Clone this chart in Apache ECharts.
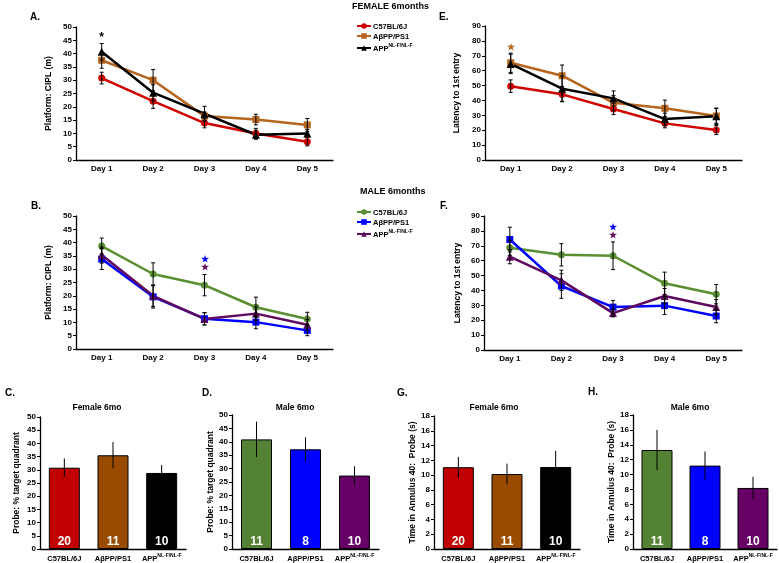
<!DOCTYPE html>
<html><head><meta charset="utf-8">
<script src="https://cdn.jsdelivr.net/npm/echarts/dist/echarts.min.js"></script>
<style>html,body{margin:0;padding:0;background:#fff}#c{width:779px;height:563px}</style>
</head><body><div id="c"></div>
<script>
// ---------- DATA ----------
const days = ['Day 1', 'Day 2', 'Day 3', 'Day 4', 'Day 5'];
const groups = ['C57BL/6J', 'AβPP/PS1', 'APP'];

// A: Female CIPL
const femCiplWT = [30.8, 22.1, 13.9, 10.0, 6.9];
const femCiplWTErr = [2.2, 2.7, 1.8, 1.9, 1.6];
const femCiplAB = [37.5, 30.0, 16.5, 15.2, 13.2];
const femCiplABErr = [3.0, 4.0, 1.5, 2.0, 2.4];
const femCiplAPP = [40.7, 25.3, 17.4, 9.5, 10.0];
const femCiplAPPErr = [3.1, 3.0, 2.8, 1.7, 1.5];

// E: Female latency
const femLatWT = [49.6, 44.1, 34.3, 24.6, 20.1];
const femLatWTErr = [4.2, 5.0, 3.8, 3.0, 3.0];
const femLatAB = [65.3, 56.6, 38.4, 34.7, 29.6];
const femLatABErr = [6.5, 7.2, 5.0, 5.5, 5.0];
const femLatAPP = [64.5, 47.9, 41.4, 27.5, 29.4];
const femLatAPPErr = [6.5, 8.5, 5.0, 4.0, 5.5];

// B: Male CIPL
const maleCiplWT = [38.7, 28.2, 24.0, 15.7, 11.3];
const maleCiplWTErr = [3.0, 4.2, 4.0, 3.8, 2.5];
const maleCiplAB = [33.8, 19.6, 11.4, 10.1, 7.0];
const maleCiplABErr = [3.9, 4.2, 2.3, 2.5, 2.0];
const maleCiplAPP = [35.3, 20.0, 11.3, 13.3, 9.1];
const maleCiplAPPErr = [3.0, 4.0, 2.3, 2.5, 2.0];

// F: Male latency
const maleLatWT = [68.6, 63.9, 63.3, 44.8, 37.5];
const maleLatWTErr = [5.0, 7.5, 9.3, 7.5, 6.5];
const maleLatAB = [74.2, 43.0, 28.8, 29.8, 22.8];
const maleLatABErr = [8.3, 8.3, 4.5, 6.0, 4.5];
const maleLatAPP = [62.7, 46.8, 24.8, 36.3, 28.9];
const maleLatAPPErr = [4.8, 6.8, 2.5, 5.0, 5.0];

// C, D: probe % target quadrant
const femProbe = [30.8, 35.5, 28.8];
const femProbeErr = [3.5, 5.0, 3.0];
const maleProbe = [40.9, 37.2, 27.4];
const maleProbeErr = [6.6, 4.5, 3.5];
// G, H: time in annulus 40
const femAnnulus = [11.07, 10.15, 11.1];
const femAnnulusErr = [1.4, 1.4, 2.2];
const maleAnnulus = [13.3, 11.2, 8.2];
const maleAnnulusErr = [2.7, 1.9, 1.5];
// group sizes
const femN = [20, 11, 10];
const maleN = [11, 8, 10];

// significance marks [dayIndex, yValue]
const starA = [[0, 46]];
const starE = [[0, 75.5]];
const starBblue = [[2, 33.8]];
const starBpurple = [[2, 30.5]];
const starFblue = [[2, 82.2]];
const starFpurple = [[2, 76.6]];

// ---------- STYLE ----------
const FONT = '"Liberation Sans", Arial, sans-serif';
const C = {
  redL: '#d00000', redB: '#c00000',
  brownL: '#b5651d', brownB: '#994c00',
  black: '#000000',
  greenL: '#5a8f31', greenB: '#548235',
  blue: '#0000ff',
  purpleL: '#5f0a5f', purpleB: '#660066'
};
const grids = [], xAxis = [], yAxis = [], series = [];

function errSeries(gi, vals, errs, capW) {
  const data = vals.map((v, i) => [i, v - errs[i], v + errs[i]]);
  series.push({
    type: 'custom', xAxisIndex: gi, yAxisIndex: gi, z: 6, silent: true,
    data: data, encode: { x: 0, y: [1, 2] },
    renderItem: function (params, api) {
      const x = api.value(0);
      const p1 = api.coord([x, api.value(1)]);
      const p2 = api.coord([x, api.value(2)]);
      const st = { stroke: '#000', lineWidth: 1 };
      return { type: 'group', children: [
        { type: 'line', shape: { x1: p1[0], y1: p1[1], x2: p2[0], y2: p2[1] }, style: st },
        { type: 'line', shape: { x1: p1[0] - capW, y1: p1[1], x2: p1[0] + capW, y2: p1[1] }, style: st },
        { type: 'line', shape: { x1: p2[0] - capW, y1: p2[1], x2: p2[0] + capW, y2: p2[1] }, style: st }
      ]};
    }
  });
}
function starSeries(gi, pts, ch, color, size) {
  series.push({
    type: 'custom', xAxisIndex: gi, yAxisIndex: gi, z: 7, silent: true,
    data: pts, encode: { x: 0, y: 1 },
    renderItem: function (params, api) {
      const p = api.coord([api.value(0), api.value(1)]);
      return { type: 'text', style: { text: ch, x: p[0], y: p[1], fill: color,
        font: 'bold ' + size + 'px ' + FONT, textAlign: 'center', textVerticalAlign: 'middle' } };
    }
  });
}
function axes(gi, cats, max, interval, yName, nameGap, labelRich) {
  xAxis.push({
    type: 'category', gridIndex: gi, data: cats, boundaryGap: true,
    axisLine: { lineStyle: { color: '#000', width: 1.3 } },
    axisTick: { alignWithLabel: true, length: 4, lineStyle: { color: '#000', width: 1 } },
    axisLabel: Object.assign({ color: '#000', fontWeight: 'bold', fontSize: 8, margin: 5, fontFamily: FONT, interval: 0 }, labelRich || {})
  });
  yAxis.push({
    type: 'value', gridIndex: gi, min: 0, max: max, interval: interval,
    splitLine: { show: false },
    axisLine: { show: true, lineStyle: { color: '#000', width: 1.3 } },
    axisTick: { show: true, length: 3, lineStyle: { color: '#000' } },
    axisLabel: { color: '#000', fontWeight: 'bold', fontSize: 8, margin: 4, fontFamily: FONT },
    name: yName, nameLocation: 'middle', nameGap: nameGap,
    nameTextStyle: { color: '#000', fontWeight: 'bold', fontSize: 8.5, fontFamily: FONT }
  });
}
function linePanel(g, max, interval, yName, nameGap, lines) {
  const gi = grids.length;
  grids.push(g);
  axes(gi, days, max, interval, yName, nameGap);
  lines.forEach(l => {
    series.push({
      type: 'line', name: l.name, xAxisIndex: gi, yAxisIndex: gi, data: l.data,
      symbol: l.symbol, symbolSize: l.size, z: 3,
      lineStyle: { width: 2.5, color: l.color }, itemStyle: { color: l.color }
    });
  });
  lines.forEach(l => errSeries(gi, l.data, l.err, 2));
  return gi;
}
const supRich = {
  b: { fontSize: 7.5, fontWeight: 'bold', fontFamily: FONT, color: '#000', lineHeight: 10, verticalAlign: 'bottom' },
  s: { fontSize: 5, fontWeight: 'bold', fontFamily: FONT, color: '#000', lineHeight: 10, verticalAlign: 'top', padding: [0, 0, 3, 0] }
};
function barPanel(g, max, interval, yName, nameGap, vals, errs, colors, ns) {
  const gi = grids.length;
  grids.push(g);
  axes(gi, groups, max, interval, yName, nameGap, {
    formatter: function (v) { return v === 'APP' ? '{b|APP}{s|NL-F/NL-F}' : '{b|' + v + '}'; },
    rich: supRich, margin: 4
  });
  series.push({
    type: 'bar', xAxisIndex: gi, yAxisIndex: gi, barWidth: 31, z: 2,
    data: vals.map((v, i) => ({ value: v, itemStyle: { color: colors[i] } })),
    itemStyle: { borderColor: '#000', borderWidth: 1 },
    label: { show: true, position: 'insideBottom', distance: 1, color: '#fff', fontWeight: 'bold',
      fontSize: 12, fontFamily: FONT, formatter: p => String(ns[p.dataIndex]) }
  });
  errSeries(gi, vals, errs, 0);
}

// ---------- PANELS ----------
linePanel({ left: 76, top: 27, width: 257, height: 133 }, 50, 5, 'Platform: CIPL (m)', 23, [
  { name: 'F_WT', data: femCiplWT, err: femCiplWTErr, color: C.redL, symbol: 'circle', size: 7 },
  { name: 'F_AB', data: femCiplAB, err: femCiplABErr, color: C.brownL, symbol: 'rect', size: 7 },
  { name: 'F_APP', data: femCiplAPP, err: femCiplAPPErr, color: C.black, symbol: 'triangle', size: 8 }
]);
starSeries(0, starA, '*', '#000', 12);

linePanel({ left: 485, top: 26, width: 257, height: 134 }, 90, 10, 'Latency to 1st entry', 24, [
  { name: 'F_WT', data: femLatWT, err: femLatWTErr, color: C.redL, symbol: 'circle', size: 7 },
  { name: 'F_AB', data: femLatAB, err: femLatABErr, color: C.brownL, symbol: 'rect', size: 7 },
  { name: 'F_APP', data: femLatAPP, err: femLatAPPErr, color: C.black, symbol: 'triangle', size: 8 }
]);
starSeries(1, starE, '★', C.brownL, 9);

linePanel({ left: 76, top: 216, width: 257, height: 133 }, 50, 5, 'Platform: CIPL (m)', 23, [
  { name: 'M_WT', data: maleCiplWT, err: maleCiplWTErr, color: C.greenL, symbol: 'circle', size: 7 },
  { name: 'M_AB', data: maleCiplAB, err: maleCiplABErr, color: C.blue, symbol: 'rect', size: 7 },
  { name: 'M_APP', data: maleCiplAPP, err: maleCiplAPPErr, color: C.purpleL, symbol: 'triangle', size: 8 }
]);
starSeries(2, starBblue, '★', C.blue, 9);
starSeries(2, starBpurple, '★', C.purpleL, 9);

linePanel({ left: 484, top: 216, width: 258, height: 134 }, 90, 10, 'Latency to 1st entry', 22, [
  { name: 'M_WT', data: maleLatWT, err: maleLatWTErr, color: C.greenL, symbol: 'circle', size: 7 },
  { name: 'M_AB', data: maleLatAB, err: maleLatABErr, color: C.blue, symbol: 'rect', size: 7 },
  { name: 'M_APP', data: maleLatAPP, err: maleLatAPPErr, color: C.purpleL, symbol: 'triangle', size: 8 }
]);
starSeries(3, starFblue, '★', C.blue, 9);
starSeries(3, starFpurple, '★', C.purpleL, 9);

barPanel({ left: 40, top: 417, width: 146, height: 132 }, 50, 5, 'Probe: % target quadrant', 19,
  femProbe, femProbeErr, [C.redB, C.brownB, C.black], femN);
barPanel({ left: 232, top: 415, width: 147, height: 134 }, 50, 5, 'Probe: % target quadrant', 16,
  maleProbe, maleProbeErr, [C.greenB, C.blue, C.purpleB], maleN);
barPanel({ left: 434, top: 416, width: 146, height: 133 }, 18, 2, 'Time in Annulus 40:  Probe (s)', 16,
  femAnnulus, femAnnulusErr, [C.redB, C.brownB, C.black], femN);
barPanel({ left: 633, top: 415, width: 144, height: 134 }, 18, 2, 'Time in Annulus 40:  Probe (s)', 16,
  maleAnnulus, maleAnnulusErr, [C.greenB, C.blue, C.purpleB], maleN);

// ---------- LEGENDS / TEXT ----------
const legendNames = { F_WT: 'C57BL/6J', F_AB: 'AβPP/PS1', F_APP: 'APP', M_WT: 'C57BL/6J', M_AB: 'AβPP/PS1', M_APP: 'APP' };
function legend(top, names) {
  return {
    orient: 'vertical', left: 356, top: top, padding: 0, itemWidth: 14, itemHeight: 7, itemGap: 2,
    data: names, selectedMode: false,
    formatter: n => legendNames[n] === 'APP' ? '{b|APP}{s|NL-F/NL-F}' : '{b|' + legendNames[n] + '}',
    textStyle: { rich: supRich, padding: [0, 0, 0, -3] }
  };
}
function txt(x, y, t, size, align) {
  return { type: 'text', x: x, y: y, silent: true,
    style: { text: t, fill: '#000', font: 'bold ' + size + 'px ' + FONT, textAlign: align || 'left', textVerticalAlign: 'middle' } };
}
const graphics = [
  txt(30, 17, 'A.', 10), txt(439, 17, 'E.', 10), txt(31, 206, 'B.', 10), txt(440, 206, 'F.', 10),
  txt(5, 393, 'C.', 10), txt(202, 393, 'D.', 10), txt(397, 393, 'G.', 10), txt(588, 392, 'H.', 10),
  txt(352, 7, 'FEMALE 6months', 9), txt(360, 192, 'MALE 6months', 9),
  txt(97, 408, 'Female 6mo', 8.5, 'center'), txt(295, 408, 'Male 6mo', 8.5, 'center'),
  txt(494, 408, 'Female 6mo', 8.5, 'center'), txt(690, 408, 'Male 6mo', 8.5, 'center')
];

const chart = echarts.init(document.getElementById('c'), null, { renderer: 'canvas' });
chart.setOption({
  animation: false, backgroundColor: '#fff',
  textStyle: { fontFamily: FONT },
  grid: grids, xAxis: xAxis, yAxis: yAxis, series: series,
  legend: [legend(23, ['F_WT', 'F_AB', 'F_APP']), legend(209, ['M_WT', 'M_AB', 'M_APP'])],
  graphic: graphics
});
</script></body></html>
